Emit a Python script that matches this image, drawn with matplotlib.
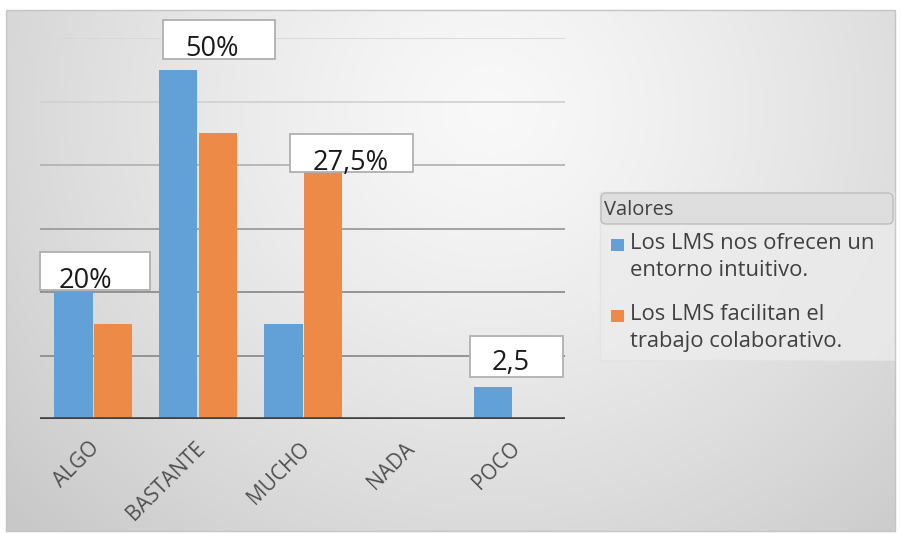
import numpy as np
import matplotlib
matplotlib.use('Agg')
import matplotlib.pyplot as plt
from matplotlib.patches import Rectangle, FancyBboxPatch

plt.rcParams['font.family'] = ['Open Sans', 'DejaVu Sans']

categories = ['ALGO', 'BASTANTE', 'MUCHO', 'NADA', 'POCO']
intuitivo = [20, 55, 15, 0, 5]
colaborativo = [15, 45, 39, 0, 0]
series_names = ['Los LMS nos ofrecen un\nentorno intuitivo.',
                'Los LMS facilitan el\ntrabajo colaborativo.']
label_texts = ['20%', '50%', '27,5%', '2,5']
gridline_values = [10, 20, 30, 40, 50, 60]

blue = '#62a0d8'
orange = '#ee8a47'

W, H = 901, 533
fig = plt.figure(figsize=(W / 100, H / 100), dpi=100)

# background: white page with a grey radial gradient chart area
bg = fig.add_axes([0, 0, 1, 1], zorder=0)
bg.set_xlim(0, W)
bg.set_ylim(H, 0)
bg.axis('off')
yy, xx = np.mgrid[0:H, 0:W]
d = np.sqrt(((xx - 490) / 520.0) ** 2 + ((yy - 110) / 480.0) ** 2)
shade = 0.975 - 0.19 * np.clip(d, 0, 1.25) ** 1.3 / 1.25 ** 1.3
img = np.dstack([shade] * 3)
outside = (xx < 6) | (xx > 895) | (yy < 10) | (yy > 531)
img[outside] = 1.0
bg.imshow(img, extent=[0, W, H, 0], aspect='auto', interpolation='bilinear')
bg.add_patch(Rectangle((6, 10), 889, 521, fill=False, ec='#c4c4c4', lw=1))

# legend drawn by hand in pixel coordinates
bg.add_patch(Rectangle((600, 192), 294, 168, fc='#ececec', ec='#e2e2e2', lw=1, alpha=0.8))
bg.add_patch(FancyBboxPatch((601, 193), 292, 31, boxstyle='round,pad=0,rounding_size=5',
                            fc='#dedede', ec='#bdbdbd', lw=1))
bg.text(604, 210, 'Valores', fontsize=14.5, color='#404040', va='center', ha='left')
for i, (name, col) in enumerate(zip(series_names, [blue, orange])):
    top = 239 + i * 71
    bg.add_patch(Rectangle((611, top), 13, 12, fc=col, ec='none'))
    bg.text(630, top - 6, name, fontsize=15.8, color='#404040', va='top',
            ha='left', linespacing=1.38)

# main chart
ax = fig.add_axes([40 / W, 114 / H, 525 / W, 381 / H], zorder=1)
ax.patch.set_alpha(0)
x = np.arange(len(categories))
bw = 0.37
ax.bar(x - bw / 2, intuitivo, bw, color=blue, zorder=3)
ax.bar(x + bw / 2 + 0.01, colaborativo, bw, color=orange, zorder=3)
ax.set_xlim(-0.5, len(categories) - 0.5)
ax.set_ylim(0, 60)

grid_colors = ['#8e8e8e', '#8e8e8e', '#9c9c9c', '#b4b4b4', '#d2d2d2', '#d8d8d8']
for v, c in zip(gridline_values, grid_colors):
    ax.axhline(v, color=c, lw=1.3, zorder=1)
ax.axhline(0, color='#404040', lw=2.6, zorder=4)

for s in ax.spines.values():
    s.set_visible(False)
ax.set_yticks([])
ax.set_xticks(x + 0.04)
ax.set_xticklabels(categories, rotation=45, ha='right', va='center',
                   rotation_mode='anchor', fontsize=15, color='#505050')
ax.tick_params(axis='x', length=0, pad=19)

# data label boxes (x0, x1, y0, y1 in data units) and text anchors
boxes = [(-0.5, 0.548, 20.3, 26.3), (0.671, 1.738, 56.7, 62.8),
         (1.881, 3.052, 38.9, 44.9), (3.595, 4.481, 6.6, 13.1)]
text_pos = [(-0.07, 20.6), (1.14, 57.2), (2.46, 39.2), (3.98, 7.7)]
for (x0, x1, y0, y1), (tx, ty), lab in zip(boxes, text_pos, label_texts):
    ax.add_patch(Rectangle((x0, y0), x1 - x0, y1 - y0, fc='white', ec='#b0b0b0',
                           lw=1.3, zorder=5, clip_on=False))
    ax.text(tx, ty, lab, fontsize=19.5, color='#1a1a1a', ha='center', va='baseline',
            zorder=6, clip_on=False)

fig.savefig('out.png', dpi=100)
